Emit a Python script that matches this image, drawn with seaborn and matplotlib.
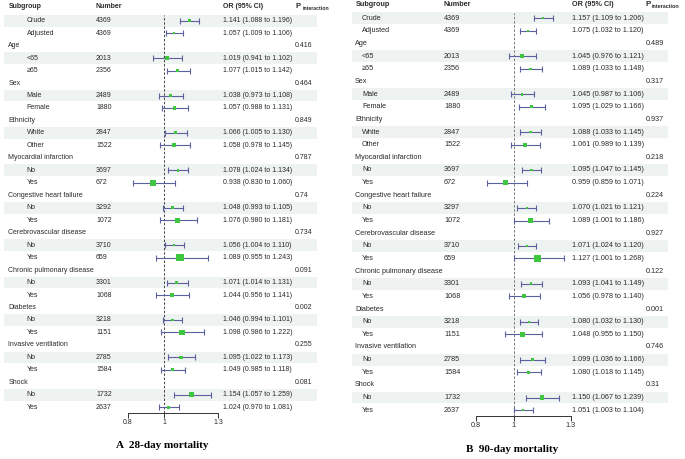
import matplotlib
matplotlib.use("Agg")
import matplotlib.pyplot as plt
import seaborn as sns
import numpy as np
import pandas as pd

# ---------------- data ----------------
row_labels = ["Crude", "Adjusted", "Age", "<65", "≥65", "Sex", "Male", "Female",
              "Ethnicity", "White", "Other", "Myocardial infarction", "No", "Yes",
              "Congestive heart failure", "No", "Yes", "Cerebrovascular disease", "No", "Yes",
              "Chronic pulmonary disease", "No", "Yes", "Diabetes", "No", "Yes",
              "Invasive ventilation", "No", "Yes", "Shock", "No", "Yes"]

n_a = [4369, 4369, None, 2013, 2356, None, 2489, 1880, None, 2847, 1522, None, 3697, 672,
       None, 3292, 1072, None, 3710, 659, None, 3301, 1068, None, 3218, 1151, None, 2785, 1584,
       None, 1732, 2637]
n_b = [4369, 4369, None, 2013, 2356, None, 2489, 1880, None, 2847, 1522, None, 3697, 672,
       None, 3297, 1072, None, 3710, 659, None, 3301, 1068, None, 3218, 1151, None, 2785, 1584,
       None, 1732, 2637]

or_a = [1.141, 1.057, None, 1.019, 1.077, None, 1.038, 1.057, None, 1.066, 1.058, None, 1.078, 0.938,
        None, 1.048, 1.076, None, 1.056, 1.089, None, 1.071, 1.044, None, 1.046, 1.098, None, 1.095, 1.049,
        None, 1.154, 1.024]
lo_a = [1.088, 1.009, None, 0.941, 1.015, None, 0.973, 0.988, None, 1.005, 0.978, None, 1.024, 0.830,
        None, 0.993, 0.980, None, 1.004, 0.955, None, 1.014, 0.956, None, 0.994, 0.986, None, 1.022, 0.985,
        None, 1.057, 0.970]
hi_a = [1.196, 1.106, None, 1.102, 1.142, None, 1.108, 1.131, None, 1.130, 1.145, None, 1.134, 1.060,
        None, 1.105, 1.181, None, 1.110, 1.243, None, 1.131, 1.141, None, 1.101, 1.222, None, 1.173, 1.118,
        None, 1.259, 1.081]
p_a = ["", "", "0.416", "", "", "0.464", "", "", "0.849", "", "", "0.787", "", "", "0.74", "", "",
       "0.734", "", "", "0.091", "", "", "0.002", "", "", "0.255", "", "", "0.081", "", ""]

or_b = [1.157, 1.075, None, 1.045, 1.089, None, 1.045, 1.095, None, 1.088, 1.061, None, 1.095, 0.959,
        None, 1.070, 1.089, None, 1.071, 1.127, None, 1.093, 1.056, None, 1.080, 1.048, None, 1.099, 1.080,
        None, 1.150, 1.051]
lo_b = [1.109, 1.032, None, 0.976, 1.033, None, 0.987, 1.029, None, 1.033, 0.989, None, 1.047, 0.859,
        None, 1.021, 1.001, None, 1.024, 1.001, None, 1.041, 0.978, None, 1.032, 0.955, None, 1.036, 1.018,
        None, 1.067, 1.003]
hi_b = [1.206, 1.120, None, 1.121, 1.148, None, 1.106, 1.166, None, 1.145, 1.139, None, 1.145, 1.071,
        None, 1.121, 1.186, None, 1.120, 1.268, None, 1.149, 1.140, None, 1.130, 1.150, None, 1.166, 1.145,
        None, 1.239, 1.104]
p_b = ["", "", "0.489", "", "", "0.317", "", "", "0.937", "", "", "0.218", "", "", "0.224", "", "",
       "0.927", "", "", "0.122", "", "", "0.001", "", "", "0.746", "", "", "0.31", "", ""]

x_ticks = [0.8, 1, 1.3]
x_tick_labels = ["0.8", "1", "1.3"]
titles = ["A  28-day mortality", "B  90-day mortality"]

# ---------------- style ----------------
sns.set_theme(style="white")
plt.rcParams['font.family'] = ['Liberation Sans', 'DejaVu Sans']

W, H = 685, 459
fig = plt.figure(figsize=(W / 100, H / 100), dpi=100)
fig.patch.set_facecolor("white")

TXT = "#2a2a2a"
SHADE = "#eef2f1"
CI_COL = "#5b609e"
PT_COL = "#3ec63e"

layouts = [
    dict(x0=0, x1=340, row0=20.7, step=12.47, axis_y=412.5, head_y=6.7, sub_x=9, grp_x=8.3,
         item_x=26.7, num_x=96, or_x=222.7, p_x=295, pi_x=302.3, shade=(4, 317), one=164,
         scale=180, f_left=110, f_right=222, fs=5.0, dash_top=15, dash_col="#444444",
         title_xy=(162, 445)),
    dict(x0=345, x1=685, row0=18.3, step=12.64, axis_y=415.5, head_y=5.0, sub_x=356, grp_x=355,
         item_x=362, num_x=444, or_x=572.3, p_x=646, pi_x=651.8, shade=(352, 668), one=513.5,
         scale=190, f_left=460, f_right=572, fs=5.2, dash_top=13, dash_col="#777777",
         title_xy=(512, 449)),
]
panels = [(n_a, or_a, lo_a, hi_a, p_a), (n_b, or_b, lo_b, hi_b, p_b)]

for k, (L, (nums, ors, los, his, ps)) in enumerate(zip(layouts, panels)):
    i_top = (0 - L["row0"]) / L["step"]
    i_bot = (L["axis_y"] - L["row0"]) / L["step"]
    head_i = (L["head_y"] - L["row0"]) / L["step"]
    fs = L["fs"]

    # table axes in pixel x-units
    ax_t = fig.add_axes([L["x0"] / W, 1 - L["axis_y"] / H, (L["x1"] - L["x0"]) / W, L["axis_y"] / H])
    ax_t.set_xlim(L["x0"], L["x1"])
    ax_t.set_ylim(i_bot, i_top)
    ax_t.axis("off")

    rows = np.arange(len(row_labels))
    is_group = [n is None for n in nums]

    # shading: first item row of each block
    xmin = (L["shade"][0] - L["x0"]) / (L["x1"] - L["x0"])
    xmax = (L["shade"][1] - L["x0"]) / (L["x1"] - L["x0"])
    for i in rows:
        if not is_group[i] and (i == 0 or is_group[i - 1]):
            ax_t.axhspan(i - 0.47, i + 0.47, xmin=xmin, xmax=xmax, color=SHADE, lw=0, zorder=0)

    # headers
    ax_t.text(L["sub_x"], head_i, "Subgroup", fontsize=fs, fontweight="bold", color=TXT, va="center")
    ax_t.text(L["num_x"], head_i, "Number", fontsize=fs, fontweight="bold", color=TXT, va="center")
    ax_t.text(L["or_x"], head_i, "OR (95% CI)", fontsize=fs, fontweight="bold", color=TXT, va="center")
    ax_t.text(L["p_x"], head_i, "P", fontsize=fs + 0.6, fontweight="bold", color=TXT, va="center")
    ax_t.text(L["pi_x"], head_i + 0.15, "interaction", fontsize=fs - 1.3, fontweight="bold",
              color=TXT, va="center")

    for i in rows:
        if is_group[i]:
            ax_t.text(L["grp_x"], i, row_labels[i], fontsize=fs, color=TXT, va="center")
            ax_t.text(L["p_x"], i, ps[i], fontsize=fs, color=TXT, va="center")
        else:
            ax_t.text(L["item_x"], i, row_labels[i], fontsize=fs, color=TXT, va="center")
            ax_t.text(L["num_x"], i, str(nums[i]), fontsize=fs, color=TXT, va="center")
            ax_t.text(L["or_x"], i, f"{ors[i]:.3f} ({los[i]:.3f} to {his[i]:.3f})",
                      fontsize=fs, color=TXT, va="center")

    # forest axes
    ax_f = fig.add_axes([L["f_left"] / W, 1 - L["axis_y"] / H, (L["f_right"] - L["f_left"]) / W,
                         L["axis_y"] / H])
    ax_f.patch.set_alpha(0)
    df = pd.DataFrame({"row": rows, "or": ors, "lo": los, "hi": his}).dropna()
    df["width"] = df["hi"] - df["lo"]
    side_px = 26 * df["width"] - 0.3
    df["s"] = (side_px * 0.72) ** 2

    dash_i = (L["dash_top"] - L["row0"]) / L["step"]
    ax_f.axvline(1, ymin=0, ymax=(i_bot - dash_i) / (i_bot - i_top), ls=(0, (2.5, 1.8)),
                 color=L["dash_col"], lw=0.7, zorder=1)
    ax_f.errorbar(df["or"], df["row"], xerr=[df["or"] - df["lo"], df["hi"] - df["or"]], fmt="none",
                  ecolor=CI_COL, elinewidth=0.8, capsize=2.0, capthick=0.8, zorder=2)
    sns.scatterplot(x=df["or"].values, y=df["row"].values, marker="s", s=df["s"].values,
                    color=PT_COL, linewidth=0, ax=ax_f, zorder=3, legend=False)

    ax_f.set_xlim(1 + (L["f_left"] - L["one"]) / L["scale"], 1 + (L["f_right"] - L["one"]) / L["scale"])
    ax_f.set_ylim(i_bot, i_top)
    ax_f.set_xlabel("")
    ax_f.set_ylabel("")
    for sp in ["top", "left", "right"]:
        ax_f.spines[sp].set_visible(False)
    ax_f.spines["bottom"].set_bounds(0.8, 1.3)
    ax_f.spines["bottom"].set_color("#333333")
    ax_f.spines["bottom"].set_linewidth(0.7)
    ax_f.set_xticks(x_ticks)
    ax_f.set_xticklabels(x_tick_labels)
    ax_f.set_yticks([])
    ax_f.tick_params(axis="x", direction="out", length=3.3, width=0.7, color="#333333",
                     pad=1.5, labelsize=fs, labelcolor=TXT, bottom=True)

    tx, ty = L["title_xy"]
    fig.text(tx / W, 1 - ty / H, titles[k], ha="center", va="center", fontsize=8,
             fontweight="bold", family=["Liberation Serif", "DejaVu Serif"], color="black")

fig.savefig("out.png", dpi=100)
